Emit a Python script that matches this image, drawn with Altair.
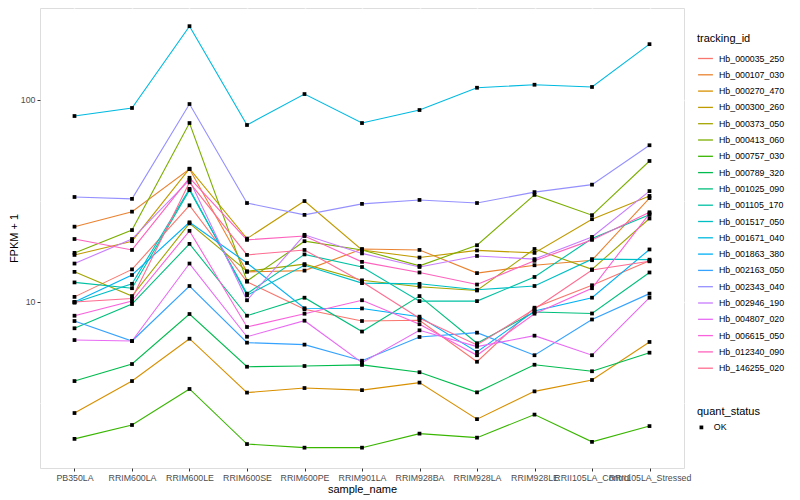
import altair as alt
import pandas as pd

samples = ["PB350LA", "RRIM600LA", "RRIM600LE", "RRIM600SE", "RRIM600PE", "RRIM901LA",
           "RRIM928BA", "RRIM928LA", "RRIM928LE", "RRII105LA_Control", "RRII105LA_Stressed"]

names = ["Hb_000035_250", "Hb_000107_030", "Hb_000270_470", "Hb_000300_260", "Hb_000373_050",
         "Hb_000413_060", "Hb_000757_030", "Hb_000789_320", "Hb_001025_090", "Hb_001105_170",
         "Hb_001517_050", "Hb_001671_040", "Hb_001863_380", "Hb_002163_050", "Hb_002343_040",
         "Hb_002946_190", "Hb_004807_020", "Hb_006615_050", "Hb_012340_090", "Hb_146255_020"]

colors = ["#F8766D", "#EA8331", "#D89000", "#C09B00", "#A3A500", "#7CAE00", "#39B600", "#00BB4E",
          "#00BF7D", "#00C1A3", "#00BFC4", "#00BAE0", "#00B0F6", "#35A2FF", "#9590FF", "#C77CFF",
          "#E76BF3", "#FA62DB", "#FF62BC", "#FF6C91"]

hb_000035_250 = [10.6, 14.5, 30.1, 12.6, 9.20, 8.05, 8.12, 5.06, 9.37, 12.1, 16.0]
hb_000107_030 = [23.6, 28.0, 45.5, 14.1, 14.3, 18.3, 18.1, 13.9, 15.2, 16.1, 32.7]
hb_000270_470 = [2.82, 4.06, 6.58, 3.56, 3.75, 3.66, 3.99, 2.63, 3.61, 4.11, 6.34]
hb_000300_260 = [17.1, 20.0, 45.7, 20.6, 31.6, 18.1, 16.6, 18.0, 17.5, 25.7, 33.5]
hb_000373_050 = [14.1, 10.7, 24.5, 14.2, 15.4, 12.8, 11.9, 11.4, 18.3, 14.5, 25.9]
hb_000413_060 = [17.5, 22.7, 76.9, 12.7, 20.0, 18.1, 15.1, 19.1, 33.9, 26.9, 49.9]
hb_000757_030 = [2.10, 2.46, 3.71, 1.98, 1.90, 1.90, 2.23, 2.13, 2.77, 2.03, 2.43]
hb_000789_320 = [4.06, 4.93, 8.72, 4.78, 4.82, 4.88, 4.49, 3.57, 4.89, 4.54, 5.61]
hb_001025_090 = [7.41, 9.77, 19.4, 8.55, 10.5, 7.14, 10.7, 6.25, 8.92, 8.77, 14.0]
hb_001105_170 = [12.5, 11.7, 35.8, 11.0, 17.2, 14.9, 10.1, 10.1, 13.3, 20.6, 27.0]
hb_001517_050 = [9.92, 12.3, 36.3, 10.8, 15.2, 12.4, 12.3, 11.5, 12.0, 16.3, 16.2]
hb_001671_040 = [83.3, 91.3, 232.0, 75.2, 107.0, 76.9, 89.2, 115.0, 119.0, 116.0, 189.0]
hb_001863_380 = [10.0, 13.6, 24.8, 15.6, 9.31, 9.29, 8.46, 5.66, 9.03, 10.5, 18.2]
hb_002163_050 = [8.05, 6.41, 12.0, 6.29, 6.15, 5.12, 6.71, 7.05, 5.45, 8.19, 11.0]
hb_002343_040 = [33.1, 32.4, 95.5, 30.9, 27.0, 30.6, 32.0, 30.9, 35.0, 38.1, 59.7]
hb_002946_190 = [15.5, 20.5, 40.2, 10.2, 21.5, 17.4, 14.9, 16.9, 16.3, 21.0, 35.4]
hb_004807_020 = [6.48, 6.41, 15.5, 6.73, 8.08, 5.01, 7.24, 6.01, 6.81, 5.45, 10.5]
hb_006615_050 = [8.55, 10.1, 22.5, 7.52, 8.75, 10.2, 7.76, 5.45, 8.75, 11.7, 27.4]
hb_012340_090 = [20.5, 18.1, 41.2, 20.3, 21.2, 15.8, 14.0, 12.2, 16.0, 20.3, 27.8]
hb_146255_020 = [10.0, 10.4, 39.1, 17.1, 18.1, 12.6, 8.30, 6.13, 9.23, 14.4, 15.9]

series = [hb_000035_250, hb_000107_030, hb_000270_470, hb_000300_260, hb_000373_050,
          hb_000413_060, hb_000757_030, hb_000789_320, hb_001025_090, hb_001105_170,
          hb_001517_050, hb_001671_040, hb_001863_380, hb_002163_050, hb_002343_040,
          hb_002946_190, hb_004807_020, hb_006615_050, hb_012340_090, hb_146255_020]

y_ticks = [3.1623, 10, 31.623, 100]

rows = []
for name, vals in zip(names, series):
    for i, (s, v) in enumerate(zip(samples, vals)):
        rows.append({"tracking_id": name, "sample_name": s, "idx": i, "fpkm": v, "quant_status": "OK"})
df = pd.DataFrame(rows)

FONT = "Liberation Sans"
major_test = "datum.value == 10 || datum.value == 100"

x_enc = alt.X("sample_name:N", title="sample_name",
              scale=alt.Scale(type="point", domain=samples, padding=0.6),
              axis=alt.Axis(labelAngle=0, labelOverlap=False, labelFontSize=8.8,
                            labelColor="#4D4D4D", tickColor="#333333", tickSize=3,
                            labelPadding=2, domain=False, grid=True, gridColor="white",
                            gridOpacity=1, gridWidth=1.5, titleFontSize=11,
                            titleFontWeight="normal", titleColor="black", titlePadding=2))
y_enc = alt.Y("fpkm:Q", title="FPKM + 1",
              scale=alt.Scale(type="log", domain=[1.507, 285.4], nice=False),
              axis=alt.Axis(values=y_ticks, grid=True, gridColor="white", gridOpacity=1,
                            gridWidth={"condition": {"test": major_test, "value": 1.5}, "value": 0.8},
                            tickOpacity={"condition": {"test": major_test, "value": 1}, "value": 0},
                            labelExpr="(datum.value == 10 || datum.value == 100) ? format(datum.value, 'd') : ''",
                            labelFontSize=8.8, labelColor="#4D4D4D", tickColor="#333333",
                            tickSize=3, labelPadding=2, domain=False, titleFontSize=11,
                            titleFontWeight="normal", titleColor="black", titlePadding=1))

lines = alt.Chart(df).mark_line(strokeWidth=1.1).encode(
    x=x_enc, y=y_enc,
    color=alt.Color("tracking_id:N", scale=alt.Scale(domain=names, range=colors),
                    legend=alt.Legend(title="tracking_id", orient="none", legendX=657, legendY=25,
                                      symbolType="stroke", symbolSize=220, symbolStrokeWidth=1.3,
                                      labelFontSize=8.8, titleFontSize=11, titleFontWeight="normal",
                                      rowPadding=2.3, titlePadding=6, labelOffset=5,
                                      labelColor="black", titleColor="black")),
    order=alt.Order("idx:Q"),
)

points = alt.Chart(df).mark_point(filled=True, color="black", size=14, opacity=1).encode(
    x=x_enc, y=y_enc,
    shape=alt.Shape("quant_status:N", scale=alt.Scale(range=["square"]),
                    legend=alt.Legend(title="quant_status", orient="none", legendX=657, legendY=398,
                                      symbolFillColor="black", symbolStrokeColor="black",
                                      symbolSize=14, labelFontSize=8.8, titleFontSize=11,
                                      titleFontWeight="normal", titlePadding=6, labelOffset=8,
                                      labelColor="black", titleColor="black")),
)

chart = alt.layer(lines, points).properties(
    width=644, height=460,
    autosize=alt.AutoSizeParams(type="none"),
    padding={"left": 32, "top": 0, "right": 108, "bottom": 32},
).configure_view(fill="#EBEBEB", stroke=None).configure(font=FONT)

chart.save("out.html", embed_options={"renderer": "svg", "actions": False})
